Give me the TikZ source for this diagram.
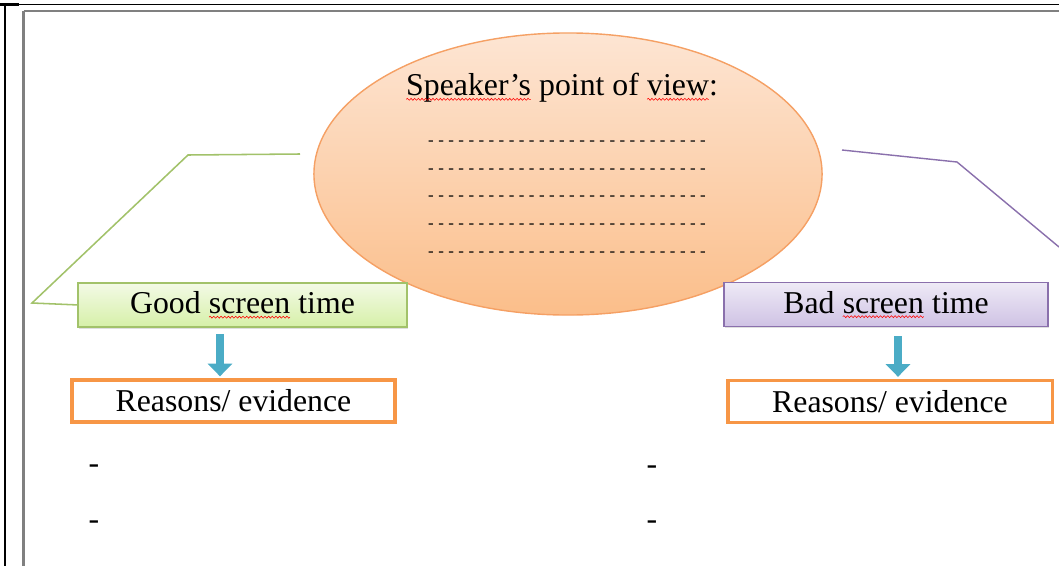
\documentclass[tikz,border=0pt]{standalone}
\usepackage{fontspec}
\setmainfont{Liberation Serif}
\usetikzlibrary{shapes.geometric, arrows.meta, shadows, decorations.pathmorphing}

\definecolor{peachtop}{HTML}{FDE5D3}
\definecolor{peachbot}{HTML}{FBBE8A}
\definecolor{peachline}{HTML}{F5A064}
\definecolor{goodtop}{HTML}{F3FAE6}
\definecolor{goodbot}{HTML}{D6F0A8}
\definecolor{goodline}{HTML}{A2C26A}
\definecolor{badtop}{HTML}{EEEAF6}
\definecolor{badbot}{HTML}{CFC2E4}
\definecolor{badline}{HTML}{8A70AC}
\definecolor{reasonline}{HTML}{F79646}
\definecolor{arrowblue}{HTML}{4BACC6}

% red wavy mark under a word
\newcommand{\typo}[1]{\tikz[baseline=(w.base)]{%
    \node[inner sep=0, outer sep=0, minimum width=0pt, minimum height=0pt, anchor=base] (w) {#1};
    \draw[red, line width=0.4pt, decorate, decoration={snake, amplitude=0.7pt, segment length=2.6pt}]
        ([yshift=-2.5pt]w.base west) -- ([yshift=-2.5pt]w.base east);}}

\begin{document}
\begin{tikzpicture}[x=0.025cm, y=-0.025cm,
    bigtext/.style={font=\fontsize{22.6}{26}\selectfont},
    topic/.style={rectangle, line width=1.2pt, minimum height=1.1cm, bigtext,
        drop shadow={opacity=0.25, shadow xshift=1pt, shadow yshift=-1.2pt}},
    reason/.style={rectangle, draw=reasonline, line width=2.2pt, fill=white,
        minimum height=1.05cm, bigtext},
    downarrow/.style={-{Triangle[width=17pt, length=9pt]}, line width=5.7pt, arrowblue}]

    \useasboundingbox (0,0) rectangle (1059,566);

    % page frame
    \draw[line width=1.4pt] (0,4.5) -- (1059,4.5);
    \draw[line width=2.2pt] (0,4.5) -- (19,4.5);
    \draw[line width=1.4pt] (5,4.5) -- (5,566);
    \draw[gray, line width=1.6pt] (23.5,11) -- (1059,11);
    \draw[gray, line width=1.6pt] (23.5,11) -- (23.5,566);

    % callout lines
    \coordinate (goodtail) at (300,154);
    \coordinate (badtail) at (842,150);
    \coordinate (badend) at (1059,247);
    \draw[goodline, line width=1.1pt] (goodtail) -- (188,155) -- (32,303) -- (79,305);
    \draw[badline, line width=1pt] (badtail) -- (957,162) -- (badend);

    % speaker's view
    \node[ellipse, draw=peachline, line width=1pt, top color=peachtop, bottom color=peachbot,
        minimum width=12.7cm, minimum height=7.05cm] (view) at (568,174) {};
    \node[bigtext] (viewtitle) at (562,88) {\typo{Speaker's} point of \typo{view}:};
    \foreach [count=\i] \y in {143,171,198,226,254}
        \node[font=\fontsize{12}{14}\selectfont, inner sep=0]
            (dots\i) at (567,\y) {\hbox to 7.05cm{\xleaders\hbox to 0.25cm{\hss-\hss}\hfill}};

    % draw boxes
    \node[topic, draw=goodline, top color=goodtop, bottom color=goodbot, minimum width=8.225cm]
        (good) at (242.5,305) {Good \typo{screen} time};
    \node[topic, draw=badline, top color=badtop, bottom color=badbot, minimum width=8.1cm]
        (bad) at (886,304.5) {Bad \typo{screen} time};
    \node[reason, minimum width=8.075cm] (reasonL) at (233.5,401) {Reasons/ evidence};
    \node[reason, minimum width=8.1cm] (reasonR) at (890,401.5) {Reasons/ evidence};

    % draw arrows
    \draw[downarrow, shorten <=4.3pt, shorten >=1.5pt] (good.south -| 220,0) -- (reasonL.north -| 220,0);
    \draw[downarrow, shorten <=6.4pt, shorten >=1.5pt] (bad.south -| 898,0) -- (reasonR.north -| 898,0);

    % empty list items
    \foreach \x/\y [count=\i] in {94/469, 94/525, 652/470, 652/525}
        \node[bigtext] (item\i) at (\x,\y) {-};

\end{tikzpicture}
\end{document}
